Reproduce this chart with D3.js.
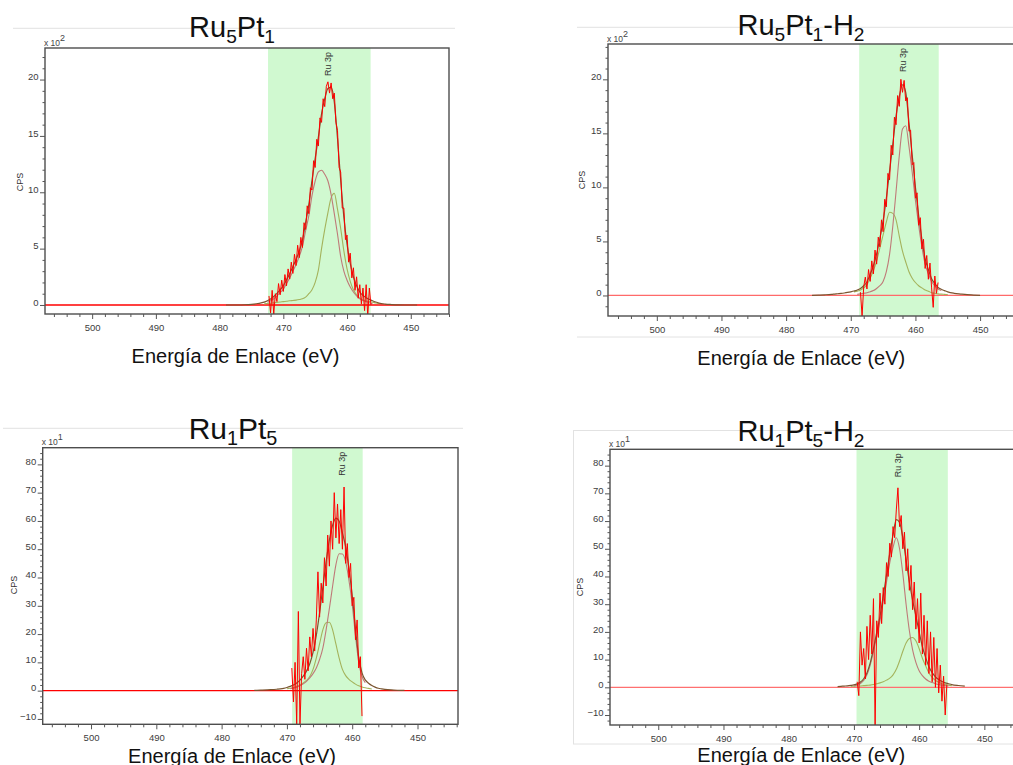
<!DOCTYPE html>
<html><head><meta charset="utf-8">
<script src="https://cdn.jsdelivr.net/npm/d3@7"></script>
<style>
html,body{margin:0;padding:0;background:#fff;}
svg{display:block;}
</style></head><body>
<svg id="c" width="1013" height="765"></svg>
<script>
// ---------- DATA ----------
const gridE = [479,478,477,476,475,474,473,472.5,472,471.5,471,470.5,470,469.5,469,468.5,468,467.5,467,466.5,466,465.5,465,464.5,464,463.5,463,462.5,462,461.5,461,460.5,460,459.5,459,458.5,458,457.5,457,456.5,456,455.5,455,454,453,452,451,450,449];

const xMajorTicks = [500,490,480,470,460,450];
const yMajorTicksA = [0,5,10,15,20];
const yMajorTicksB = [-10,0,10,20,30,40,50,60,70,80];
const peakLabel = "Ru 3p";
const xTitleText = "Energía de Enlace (eV)";
const yTitleText = "CPS";
const redStep = 0.25;

const titleRu5Pt1   = [["Ru",0],["5",1],["Pt",0],["1",1]];
const titleRu5Pt1H2 = [["Ru",0],["5",1],["Pt",0],["1",1],["-H",0],["2",1]];
const titleRu1Pt5   = [["Ru",0],["1",1],["Pt",0],["5",1]];
const titleRu1Pt5H2 = [["Ru",0],["1",1],["Pt",0],["5",1],["-H",0],["2",1]];

// Panel 1: Ru5Pt1 (x10^2 CPS)
const p1Rose  = [0,0,0,0.01,0.03,0.07,0.15,0.25,0.38,0.55,0.8,1.1,1.4,1.9,2.4,3.0,3.6,4.3,5.2,6.6,7.9,9.7,11.0,11.8,11.95,11.6,11.0,9.8,8.1,6.3,4.3,3.0,2.2,1.6,1.15,0.8,0.55,0.4,0.3,0.2,0.12,0.08,0.05,0.02,0.01,0,0,0,0];
const p1Olive = [0,0,0,0.01,0.03,0.06,0.1,0.13,0.16,0.2,0.23,0.26,0.3,0.33,0.37,0.4,0.43,0.48,0.55,0.7,1.0,1.35,2.0,3.1,5.0,6.7,8.2,9.5,9.9,8.5,6.8,4.8,3.2,2.1,1.35,0.9,0.6,0.45,0.35,0.3,0.25,0.18,0.12,0.06,0.03,0.01,0,0,0];
const p1RedStart = 472.25;
const p1Red = [0.8,-0.7,1.3,-0.8,1.0,0.3,1.9,0.9,2.2,1.2,2.7,1.7,3.2,2.3,3.8,2.8,4.5,3.5,5.3,4.2,6.0,5.1,7.3,6.7,8.8,8.1,10.4,10.2,12.8,12.2,14.7,14.1,16.6,16.2,18.3,17.6,19.4,19.8,18.8,19.7,18.3,18.8,16.2,15.5,12.2,11.8,8.6,8.6,5.8,6.2,3.8,4.6,2.4,3.3,1.3,2.5,0.6,1.8,0.1,1.5,-0.5,1.8,-1.0,1.5,0.0];

// Panel 2: Ru5Pt1-H2 (x10^2 CPS)
const p2Rose  = [0,0,0,0,0.01,0.02,0.03,0.03,0.04,0.04,0.05,0.06,0.07,0.08,0.1,0.15,0.2,0.25,0.35,0.45,0.65,0.9,1.3,2.2,3.8,6.4,9.6,12.9,15.4,15.7,13.8,11.4,8.8,6.5,4.5,2.9,2.0,1.3,0.9,0.6,0.45,0.35,0.25,0.15,0.1,0.05,0.03,0.01,0];
const p2Olive = [0,0,0,0.01,0.02,0.04,0.07,0.1,0.12,0.15,0.18,0.22,0.27,0.33,0.4,0.5,0.7,1.0,1.6,2.3,3.2,4.4,5.6,6.8,7.7,7.6,7.0,5.5,4.1,3.1,2.2,1.6,1.2,0.9,0.7,0.5,0.4,0.25,0.2,0.15,0.12,0.1,0.08,0.05,0.03,0.02,0.01,0,0];
const p2RedStart = 468.5;
const p2Red = [0.3,-1.9,0.8,1.7,0.6,2.4,1.3,3.2,2.0,4.2,2.9,5.4,4.5,7.0,5.9,8.9,8.2,11.3,10.7,13.9,13.0,16.5,15.8,18.5,17.5,20.0,18.8,19.9,18.0,18.3,15.2,15.3,12.1,12.3,9.0,9.5,6.5,7.2,4.3,5.2,2.5,3.7,1.5,3.0,0.7,-1.1,1.8,0.2,1.2];

// Panel 3: Ru1Pt5 (x10^1 CPS)
const p3Rose  = [0,0,0,0,0.02,0.05,0.08,0.11,0.14,0.18,0.22,0.3,0.45,0.65,0.9,1.2,1.7,2.4,3.3,4.5,6.0,8.0,11.0,15.0,21.5,29.0,37.0,44.5,48.4,48.3,45.5,39.0,30.5,19.5,10.0,5.0,2.8,1.8,1.2,0.8,0.5,0.35,0.25,0.12,0.06,0.03,0.01,0,0];
const p3Olive = [0,0,0,0.02,0.05,0.1,0.17,0.22,0.27,0.33,0.4,0.5,0.65,0.85,1.1,1.5,2.0,2.7,3.6,5.0,7.5,11.5,16.5,21.5,24.0,24.2,21.5,16.5,11.5,7.5,5.3,4.0,3.1,2.3,1.7,1.3,1.0,0.8,0.6,0.45,0.35,0.28,0.2,0.12,0.07,0.03,0.01,0,0];
const p3RedStart = 469.25;
const p3Red = [8,-4,10,-12,28,-12,6,12,4,15,7,19,12,22,14,25,42,26,38,31,47,37,55,44,60,50,70,54,66,52,64,50,72,45,52,40,45,30,33,18,25,8,12,-9];

// Panel 4: Ru1Pt5-H2 (x10^1 CPS)
const p4Rose  = [0,0,0,0,0.02,0.05,0.08,0.1,0.15,0.2,0.25,0.35,0.5,0.8,1.4,2.5,4.5,8.0,13.0,18.5,24.0,31.0,38.0,45.0,50.5,54.0,50.0,41.0,30.0,20.5,13.5,9.0,6.0,4.2,3.0,2.2,1.7,1.3,1.0,0.8,0.6,0.5,0.4,0.25,0.15,0.08,0.03,0,0];
const p4Olive = [0,0,0,0,0,0.05,0.1,0.15,0.2,0.25,0.3,0.35,0.4,0.45,0.5,0.6,0.7,0.8,1.0,1.3,1.6,2.0,2.6,3.3,4.5,6.5,9.5,13.0,16.0,17.6,18.0,16.8,14.0,10.5,7.8,5.2,3.6,2.5,1.8,1.3,1.0,0.8,0.6,0.4,0.25,0.15,0.05,0,0];
const p4RedStart = 469.5;
const p4Red = [2,-3,20,8,14,3,22,10,26,12,32,-14,24,18,34,23,36,30,45,40,52,47,58,54,64,72,58,62,50,56,42,50,35,44,28,38,21,32,16,34,12,26,8,24,5,20,2,18,0,14,-2,8,-5,4,-10,1];

// ---------- PANEL SETUP (layout + styles) ----------
const panels = [
  { title: titleRu5Pt1, exp: "2", rose: p1Rose, olive: p1Olive, redStart: p1RedStart, red: p1Red,
    band: [472.4, 456.3], peakE: 463.0, envRange: [479, 449], yMajor: yMajorTicksA, yMinorStep: 1,
    L: { left: 45, right: 449, top: 48, bottom: 314, xDomain: [507.4, 444.0], yDomain: [-0.8, 22.8],
         titleX: 232, titleY: 36.7, titleSize: 29, xtX: 235.5, xtY: 362.5, cpsX: 19.5, cpsY: 182, zero: "#ff0000" } },
  { title: titleRu5Pt1H2, exp: "2", rose: p2Rose, olive: p2Olive, redStart: p2RedStart, red: p2Red,
    band: [468.7, 456.4], peakE: 462.0, envRange: [476, 449.5], yMajor: yMajorTicksA, yMinorStep: 1,
    L: { left: 608, right: 1015, top: 44, bottom: 316, xDomain: [507.55, 444.6], yDomain: [-1.9, 23.27],
         titleX: 801, titleY: 35, titleSize: 29, xtX: 801.3, xtY: 365, cpsX: 581.7, cpsY: 180, zero: "#ff6a6a" } },
  { title: titleRu1Pt5, exp: "1", rose: p3Rose, olive: p3Olive, redStart: p3RedStart, red: p3Red,
    band: [469.2, 458.4], peakE: 461.5, envRange: [475.1, 451.1], yMajor: yMajorTicksB, yMinorStep: 2,
    L: { left: 42.7, right: 458, top: 447.7, bottom: 724.3, xDomain: [507.4, 443.8], yDomain: [-11.9, 85.9],
         titleX: 233, titleY: 438.5, titleSize: 30, xtX: 232, xtY: 762.5, cpsX: 13.5, cpsY: 585, zero: "#ff0000" } },
  { title: titleRu1Pt5H2, exp: "1", rose: p4Rose, olive: p4Olive, redStart: p4RedStart, red: p4Red,
    band: [469.6, 455.6], peakE: 463.3, envRange: [472.6, 452.1], yMajor: yMajorTicksB, yMinorStep: 2,
    L: { left: 610, right: 1015, top: 449.3, bottom: 725, xDomain: [507.4, 445.3], yDomain: [-13.6, 85.9],
         titleX: 801, titleY: 440.7, titleSize: 29, xtX: 801.3, xtY: 762, cpsX: 580, cpsY: 587, zero: "#ff7070" } }
];

const FONT = "'Liberation Sans', Arial, Helvetica, sans-serif";
const svg = d3.select("#c").attr("font-family", FONT);

// faint screenshot borders
const deco = svg.append("g").attr("stroke", "#e2e2e2").attr("stroke-width", 1).attr("fill", "none");
[[13,28.3,455,28.3],[577,27.3,1013,27.3],[577,337,1013,337],[3,428.3,463,428.3]].forEach(l =>
  deco.append("line").attr("x1", l[0]).attr("y1", l[1]).attr("x2", l[2]).attr("y2", l[3]));
deco.append("rect").attr("x", 573.5).attr("y", 430.5).attr("width", 445).attr("height", 313.5);

panels.forEach((p, i) => {
  const L = p.L;
  const x = d3.scaleLinear().domain(L.xDomain).range([L.left, L.right]);
  const y = d3.scaleLinear().domain(L.yDomain).range([L.bottom, L.top]);
  const g = svg.append("g");

  const clipId = "clip" + i;
  svg.append("clipPath").attr("id", clipId).append("rect")
    .attr("x", L.left).attr("y", L.top).attr("width", L.right - L.left).attr("height", L.bottom - L.top);
  const plot = g.append("g").attr("clip-path", `url(#${clipId})`);

  // fit region band
  plot.append("rect").attr("x", x(p.band[0])).attr("width", x(p.band[1]) - x(p.band[0]))
    .attr("y", L.top).attr("height", L.bottom - L.top).attr("fill", "#d0f9d0");

  const line = d3.line().x(d => x(d[0])).y(d => y(d[1])).curve(d3.curveMonotoneX);
  const pts = (arr, hi, lo) => gridE.map((e, k) => [e, arr[k]]).filter(d => d[0] <= hi && d[0] >= lo);
  const env = p.rose.map((v, k) => v + p.olive[k]);

  // red zero line
  plot.append("line").attr("x1", L.left).attr("x2", L.right).attr("y1", y(0)).attr("y2", y(0))
    .attr("stroke", L.zero).attr("stroke-width", 1.3);

  // components
  plot.append("path").attr("d", line(pts(p.olive, p.band[0] + 1.0, p.band[1] - 1.5)))
    .attr("fill", "none").attr("stroke", "#a4b35c").attr("stroke-width", 1.1);
  plot.append("path").attr("d", line(pts(p.rose, p.band[0] + 0.5, p.band[1] - 0.5)))
    .attr("fill", "none").attr("stroke", "#bf7a78").attr("stroke-width", 1.1);
  // envelope
  plot.append("path").attr("d", line(pts(env, p.envRange[0], p.envRange[1])))
    .attr("fill", "none").attr("stroke", "#7a5530").attr("stroke-width", 1.2);

  // measured data
  const redPts = p.red.map((v, k) => [p.redStart - k * redStep, v]);
  plot.append("path").attr("d", d3.line().x(d => x(d[0])).y(d => y(d[1]))(redPts))
    .attr("fill", "none").attr("stroke", "#ff0000").attr("stroke-width", 1);

  // peak label
  g.append("text").attr("transform", `translate(${x(p.peakE) + 3},${L.top + 4}) rotate(-90)`)
    .attr("text-anchor", "end").attr("font-size", 9).attr("fill", "#333").text(peakLabel);

  // frame
  g.append("rect").attr("x", L.left).attr("y", L.top).attr("width", L.right - L.left).attr("height", L.bottom - L.top)
    .attr("fill", "none").attr("stroke", "#4d4d4d").attr("stroke-width", 1.4);

  // x axis
  const xMin = Math.min(...L.xDomain), xMax = Math.max(...L.xDomain);
  const xMinor = d3.range(Math.ceil(xMin / 2) * 2, xMax, 2).filter(v => !xMajorTicks.includes(v));
  const gx = g.append("g").attr("transform", `translate(0,${L.bottom})`)
    .call(d3.axisBottom(x).tickValues(xMajorTicks).tickSize(5).tickPadding(5).tickFormat(d3.format("d")));
  const gxm = g.append("g").attr("transform", `translate(0,${L.bottom})`)
    .call(d3.axisBottom(x).tickValues(xMinor).tickSize(3).tickFormat(""));
  // y axis
  const yMin = L.yDomain[0], yMax = L.yDomain[1];
  const yMinor = d3.range(Math.ceil(yMin / p.yMinorStep) * p.yMinorStep, yMax, p.yMinorStep)
    .filter(v => !p.yMajor.includes(v));
  const gy = g.append("g").attr("transform", `translate(${L.left},0)`)
    .call(d3.axisLeft(y).tickValues(p.yMajor).tickSize(5).tickPadding(1.5));
  const gym = g.append("g").attr("transform", `translate(${L.left},0)`)
    .call(d3.axisLeft(y).tickValues(yMinor).tickSize(2.5).tickFormat(""));
  [gx, gxm, gy, gym].forEach(a => {
    a.select(".domain").remove();
    a.attr("font-family", FONT).attr("font-size", 9.5);
    a.selectAll("line").attr("stroke", "#555");
    a.selectAll("text").attr("fill", "#3d3d3d");
  });
  gy.selectAll("text").attr("dy", "0.02em");

  // exponent label
  const ex = g.append("text").attr("x", L.left - 1).attr("y", L.top - 2.3).attr("font-size", 8.5).attr("fill", "#444");
  ex.append("tspan").text("x 10");
  ex.append("tspan").attr("dy", -5).attr("font-size", 9).text(p.exp);

  // CPS label
  g.append("text").attr("transform", `translate(${L.cpsX + 3},${L.cpsY}) rotate(-90)`)
    .attr("text-anchor", "middle").attr("font-size", 9).attr("fill", "#333").text(yTitleText);

  // x title
  g.append("text").attr("x", L.xtX).attr("y", L.xtY).attr("text-anchor", "middle")
    .attr("font-size", 20).attr("fill", "#111").text(xTitleText);

  // panel title with subscripts
  const t = g.append("text").attr("x", L.titleX).attr("y", L.titleY).attr("text-anchor", "middle")
    .attr("font-size", L.titleSize).attr("fill", "#111");
  let shifted = false;
  p.title.forEach(([s, sub]) => {
    const ts = t.append("tspan").text(s);
    if (sub && !shifted) { ts.attr("dy", 6).attr("font-size", L.titleSize * 0.66); shifted = true; }
    else if (sub) { ts.attr("font-size", L.titleSize * 0.66); }
    else if (!sub && shifted) { ts.attr("dy", -6); shifted = false; }
  });
});
</script>
</body></html>
